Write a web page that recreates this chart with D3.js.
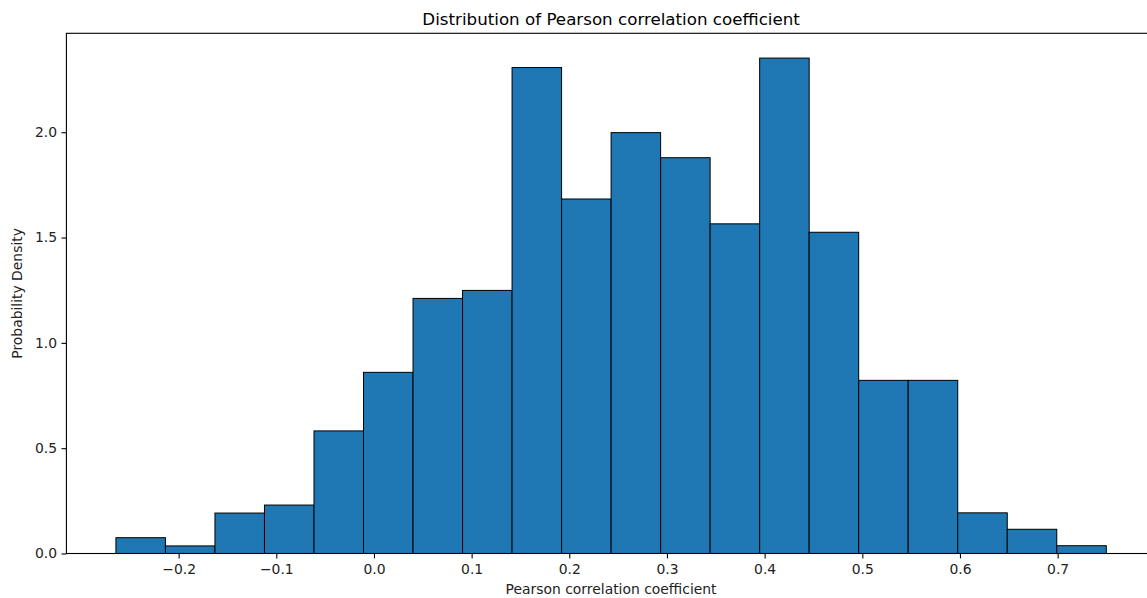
<!DOCTYPE html>
<html>
<head>
<meta charset="utf-8">
<script src="https://cdn.jsdelivr.net/npm/d3@7"></script>
<style>
  body { margin: 0; background: #fff; overflow: hidden; }
  svg { display: block; font-family: "DejaVu Sans", sans-serif; }
</style>
</head>
<body>
<div class="svg"></div>
<script>
// bin edges of the histogram (Pearson r)
var binEdges = [-0.2642, -0.2135, -0.1628, -0.1121, -0.0614, -0.0107, 0.0400, 0.0907,
  0.1414, 0.1921, 0.2428, 0.2935, 0.3442, 0.3949, 0.4456, 0.4963, 0.5470, 0.5977,
  0.6484, 0.6991, 0.7498];
// density per bin
var density = [0.075, 0.036, 0.192, 0.230, 0.582, 0.860, 1.211, 1.249, 2.307, 1.683,
  1.998, 1.879, 1.565, 2.352, 1.525, 0.822, 0.822, 0.193, 0.115, 0.037];
var xTicks = [-0.2, -0.1, 0.0, 0.1, 0.2, 0.3, 0.4, 0.5, 0.6, 0.7];
var yTicks = [0.0, 0.5, 1.0, 1.5, 2.0];

var W = 1147, H = 598;
var mLeft = 66.4, mRight = 1155.8, mTop = 33.3, mBottom = 553.5;

var svg = d3.select('div.svg').append('svg')
  .attr('width', W).attr('height', H);

var lo = binEdges[0], hi = binEdges[binEdges.length - 1];
var pad = (hi - lo) * 0.05;
var x = d3.scaleLinear().domain([lo - pad, hi + pad]).range([mLeft, mRight]);
var y = d3.scaleLinear().domain([0, d3.max(density) * 1.05]).range([mBottom, mTop]);

var bins = density.map(function (d, i) {
  return { x0: binEdges[i], x1: binEdges[i + 1], v: d };
});

svg.append('g').selectAll('rect')
  .data(bins)
  .enter().append('rect')
  .attr('x', function (d) { return x(d.x0); })
  .attr('y', function (d) { return y(d.v); })
  .attr('width', function (d) { return x(d.x1) - x(d.x0); })
  .attr('height', function (d) { return y(0) - y(d.v); })
  .attr('fill', '#1f77b4')
  .attr('stroke', '#000')
  .attr('stroke-width', 1);

// spines
svg.append('rect')
  .attr('x', mLeft).attr('y', mTop)
  .attr('width', mRight - mLeft).attr('height', mBottom - mTop)
  .attr('fill', 'none').attr('stroke', '#000').attr('stroke-width', 1.1);

var xAxis = svg.append('g')
  .attr('transform', 'translate(0,' + mBottom + ')')
  .call(d3.axisBottom(x).tickValues(xTicks).tickSize(4.9).tickPadding(6)
    .tickFormat(function (d) { return d3.format('.1f')(d).replace('-', '\u2212'); }));
var yAxis = svg.append('g')
  .attr('transform', 'translate(' + mLeft + ',0)')
  .call(d3.axisLeft(y).tickValues(yTicks).tickSize(4.9).tickPadding(4.5)
    .tickFormat(d3.format('.1f')));

[xAxis, yAxis].forEach(function (g) {
  g.select('.domain').remove();
  g.selectAll('.tick line').attr('stroke', '#000').attr('stroke-width', 1.1);
  g.selectAll('.tick text')
    .attr('fill', '#222')
    .style('font-size', '13.9px')
    .style('font-family', '"DejaVu Sans", sans-serif');
});

svg.append('text')
  .attr('x', (mLeft + mRight) / 2).attr('y', 24.5)
  .attr('text-anchor', 'middle')
  .style('font-size', '16.7px')
  .attr('fill', '#000')
  .text('Distribution of Pearson correlation coefficient');

svg.append('text')
  .attr('x', (mLeft + mRight) / 2).attr('y', 594)
  .attr('text-anchor', 'middle')
  .style('font-size', '13.9px')
  .attr('fill', '#222')
  .text('Pearson correlation coefficient');

svg.append('text')
  .attr('transform', 'translate(22,' + ((mTop + mBottom) / 2) + ') rotate(-90)')
  .attr('text-anchor', 'middle')
  .style('font-size', '13.9px')
  .attr('fill', '#222')
  .text('Probability Density');
</script>
</body>
</html>
